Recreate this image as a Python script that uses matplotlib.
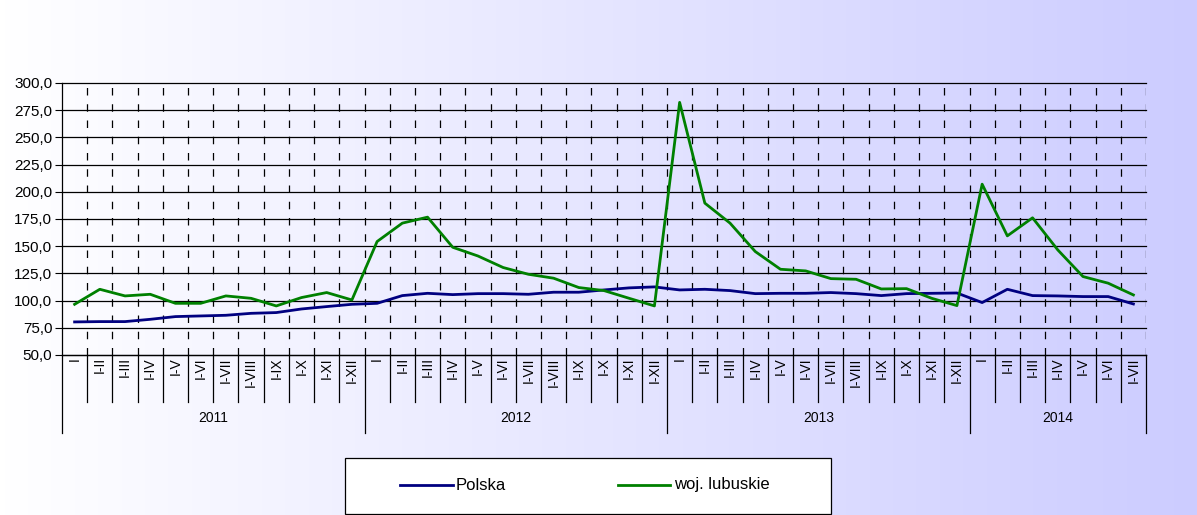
import numpy as np
import matplotlib
matplotlib.use("Agg")
import matplotlib.pyplot as plt
from matplotlib.lines import Line2D
from matplotlib.patches import Rectangle

plt.rcParams['font.family'] = ['Liberation Sans', 'DejaVu Sans']

years = ['2011', '2012', '2013', '2014']
months_per_year = [12, 12, 12, 7]
month_labels = ['I', 'I-II', 'I-III', 'I-IV', 'I-V', 'I-VI', 'I-VII', 'I-VIII',
                'I-IX', 'I-X', 'I-XI', 'I-XII']
series_names = ['Polska', 'woj. lubuskie']

polska = [80.4, 80.7, 80.7, 82.8, 85.3, 85.9, 86.5, 88.3, 89.0, 92.3, 94.5, 96.6,
          97.5, 104.6, 106.7, 105.5, 106.4, 106.4, 105.8, 107.7, 107.7, 109.8, 111.7, 112.6,
          109.8, 110.4, 109.2, 106.4, 106.7, 106.7, 107.4, 106.4, 104.6, 106.4, 106.7, 107.0,
          98.2, 110.4, 104.6, 104.3, 103.7, 103.7, 96.9]
lubuskie = [96.6, 110.4, 104.3, 105.8, 97.5, 97.5, 104.3, 102.1, 95.1, 102.8, 107.4, 100.6,
            154.3, 171.2, 176.7, 149.0, 141.0, 130.4, 124.2, 120.6, 112.0, 109.2, 102.1, 95.1,
            282.2, 189.6, 171.2, 145.1, 128.8, 127.3, 120.2, 119.6, 110.7, 111.0, 102.1, 95.4,
            207.0, 159.5, 176.1, 146.6, 122.1, 116.0, 105.2]

colors = ['#000080', '#008000']
W, H = 1197, 515

n = len(polska)
x = np.arange(n) + 0.5

fig = plt.figure(figsize=(W / 100, H / 100), dpi=100)

# gradient background, white -> lavender
bg = fig.add_axes([0, 0, 1, 1])
grad = np.linspace(0, 1, 256)
c0 = np.array([1.0, 1.0, 1.0])
c1 = np.array([204, 204, 255]) / 255
img = c0[None, :] * (1 - grad[:, None]) + c1[None, :] * grad[:, None]
bg.imshow(img[None, :, :], aspect='auto', extent=[0, 1, 0, 1])
bg.set_xlim(0, 1)
bg.set_ylim(0, 1)
bg.set_axis_off()

ax = fig.add_axes([62 / W, 1 - 355 / H, (1146 - 62) / W, 272 / H])
ax.set_facecolor('none')
ax.set_xlim(0, n)
ax.set_ylim(50, 300)

yt = np.arange(50, 301, 25)
ax.set_yticks(yt)
ax.set_yticklabels([f'{v:.1f}'.replace('.', ',') for v in yt], fontsize=11)
ax.tick_params(axis='y', length=5, width=0.8, pad=2)
ax.set_xticks([])
for v in yt:
    ax.axhline(v, color='black', lw=0.9, zorder=1, clip_on=False)
for i in range(1, n + 1):
    ax.axvline(i, color='black', lw=0.9, linestyle=(0, (6, 7)), zorder=1)

for s in ['top', 'right']:
    ax.spines[s].set_visible(False)
ax.spines['left'].set_linewidth(0.9)
ax.spines['bottom'].set_linewidth(0.9)

ax.plot(x, polska, color=colors[0], lw=2.0, zorder=3)
ax.plot(x, lubuskie, color=colors[1], lw=2.0, zorder=3)

# category axis below: months then years
tr = ax.get_xaxis_transform()
month_bottom = -(402 - 355) / 272
year_bottom = -(433 - 355) / 272
pos = 0
for yr, cnt in zip(years, months_per_year):
    for k in range(cnt):
        ax.text(pos + k + 0.5, -0.008, month_labels[k], rotation=90, ha='center',
                va='top', fontsize=10, transform=tr, clip_on=False)
        if k > 0:
            ax.add_line(Line2D([pos + k, pos + k], [0, month_bottom], color='black',
                               lw=0.9, transform=tr, clip_on=False))
    ax.add_line(Line2D([pos, pos], [0, year_bottom], color='black', lw=0.9,
                       transform=tr, clip_on=False))
    ax.text(pos + cnt / 2, -(418 - 355) / 272, yr, ha='center', va='center',
            fontsize=10, transform=tr, clip_on=False)
    pos += cnt
ax.add_line(Line2D([pos, pos], [0, year_bottom], color='black', lw=0.9,
                   transform=tr, clip_on=False))

# legend box drawn by hand
def fx(px):
    return px / W

def fy(py):
    return 1 - py / H

fig.patches.append(Rectangle((fx(345), fy(514)), fx(831) - fx(345), fy(458) - fy(514),
                             transform=fig.transFigure, facecolor='white',
                             edgecolor='black', lw=0.9))
for (x0, x1, tx), name, c in zip([(400, 453, 456), (618, 670, 674)], series_names, colors):
    fig.add_artist(Line2D([fx(x0), fx(x1)], [fy(485), fy(485)], color=c, lw=2.0,
                          transform=fig.transFigure))
    fig.text(fx(tx), fy(485), name, ha='left', va='center', fontsize=12)

fig.savefig('out.png', dpi=100)
